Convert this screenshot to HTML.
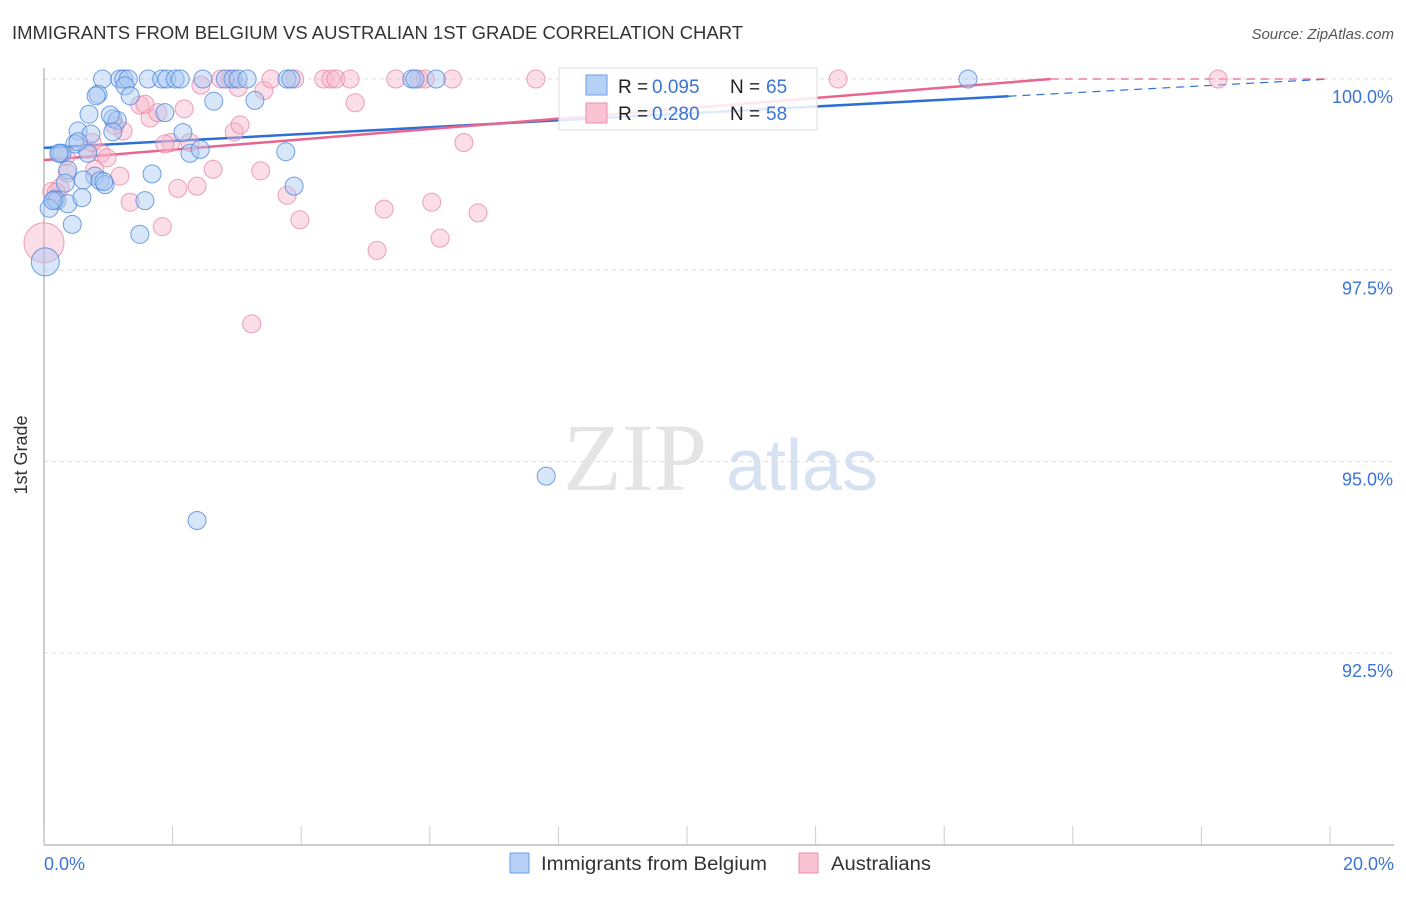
<!DOCTYPE html>
<html><head><meta charset="utf-8"><style>
body{margin:0;background:#fff;font-family:"Liberation Sans",sans-serif;}
svg text{font-family:"Liberation Sans",sans-serif;}
</style></head><body>
<svg id="c" width="1406" height="892" viewBox="0 0 1406 892" xmlns="http://www.w3.org/2000/svg">
<text x="12" y="39" font-size="18" fill="#333" textLength="731" lengthAdjust="spacingAndGlyphs">IMMIGRANTS FROM BELGIUM VS AUSTRALIAN 1ST GRADE CORRELATION CHART</text>
<text x="1394" y="39" font-size="15" fill="#555" text-anchor="end" font-style="italic">Source: ZipAtlas.com</text>
<text x="27" y="455" font-size="18" fill="#333" text-anchor="middle" transform="rotate(-90 27 455)">1st Grade</text>
<g><text x="635" y="490" font-size="96" fill="#e4e4e4" text-anchor="middle" style="font-family:'Liberation Serif',serif">ZIP</text><text x="802" y="490" font-size="72" fill="#d6e2f2" text-anchor="middle">atlas</text></g>
<g id="grid"></g><g id="axes"></g><g id="lines"></g><g id="pts"></g>
<g>
<rect x="559" y="68" width="258" height="62" fill="#fff" fill-opacity="0.85" stroke="#ddd"/>
<rect x="586" y="75" width="21" height="20" fill="#b7d0f5" stroke="#6a9ee6"/>
<rect x="586" y="103" width="21" height="20" fill="#f9c3d3" stroke="#ea8fab"/>
<text y="93" font-size="19" fill="#222"><tspan x="618">R =</tspan><tspan x="652" fill="#3a74d6">0.095</tspan><tspan x="730">N =</tspan><tspan x="766" fill="#3a74d6">65</tspan></text>
<text y="120" font-size="19" fill="#222"><tspan x="618">R =</tspan><tspan x="652" fill="#3a74d6">0.280</tspan><tspan x="730">N =</tspan><tspan x="766" fill="#3a74d6">58</tspan></text>
</g>
<g>
<rect x="510" y="853" width="19" height="20" fill="#b7d0f5" stroke="#6a9ee6"/>
<text x="541" y="870" font-size="19" fill="#333" textLength="226" lengthAdjust="spacingAndGlyphs">Immigrants from Belgium</text>
<rect x="799" y="853" width="19" height="20" fill="#f9c3d3" stroke="#ea8fab"/>
<text x="831" y="870" font-size="19" fill="#333" textLength="100" lengthAdjust="spacingAndGlyphs">Australians</text>
</g>
</svg>
<script>
const xTicks=[0,2,4,6,8,10,12,14,16,18,20];
const yTicks=[92.5,95,97.5,100];
const yTickLabels=["92.5%","95.0%","97.5%","100.0%"];
const xEndLabels=["0.0%","20.0%"];
const blueX=[0.91,1.18,1.24,1.31,1.62,1.83,1.91,2.04,2.12,2.47,2.82,2.94,3.02,3.16,3.78,3.84,5.72,5.77,6.10,14.37,1.26,0.84,0.81,1.34,0.70,2.64,3.28,1.07,1.88,0.53,0.73,1.14,1.07,2.16,0.48,0.25,0.28,2.27,2.43,3.76,0.37,1.68,0.79,0.61,0.87,0.95,0.33,3.89,0.17,0.20,0.37,0.59,0.08,1.57,0.44,1.49,0.02,7.81,2.38,0.14,0.23,0.68,0.53,0.93,1.03];
const blueY=[100,100,100,100,100,100,100,100,100,100,100,100,100,100,100,100,100,100,100,100,99.91,99.80,99.78,99.78,99.54,99.71,99.72,99.48,99.56,99.32,99.28,99.46,99.31,99.30,99.15,99.03,99.03,99.03,99.08,99.05,98.81,98.76,98.73,98.68,98.67,98.62,98.64,98.60,98.43,98.41,98.37,98.45,98.31,98.41,98.10,97.97,97.61,94.81,94.23,98.41,99.03,99.03,99.18,98.66,99.53];
const pinkX=[0.00,0.12,0.25,0.36,0.34,0.68,0.89,0.79,1.18,0.98,1.23,1.49,1.65,1.57,1.77,2.18,1.97,1.88,1.84,1.34,2.08,2.38,2.63,2.96,3.05,3.37,3.02,2.89,2.44,2.75,3.42,3.53,3.90,4.35,4.46,4.54,4.76,4.84,5.29,5.18,3.98,3.23,3.78,5.47,5.83,5.93,6.35,6.03,6.16,6.75,6.53,7.65,12.35,18.26,2.27,1.10,0.75,0.19];
const pinkY=[97.86,98.53,98.58,98.77,98.99,99.08,99.03,98.82,98.73,98.97,99.32,99.66,99.49,99.67,99.56,99.61,99.17,99.15,98.07,98.39,98.57,98.60,98.82,99.31,99.40,98.80,99.89,100,99.92,100,99.85,100,100,100,100,100,100,99.69,98.30,97.76,98.16,96.80,98.48,100,100,100,100,98.39,97.92,98.25,99.17,100,100,100,99.17,99.39,99.17,98.52];
const blueR=[9,9,9,9,9,9,9,9,9,9,9,9,9,9,9,9,9,9,9,9,9,9,9,9,9,9,9,9,9,9,9,9,9,9,9,9,9,9,9,9,9,9,9,9,9,9,9,9,9,9,9,9,9,9,9,9,14,9,9,9,9,9,9,9,9];
const pinkR=[20,9,9,9,9,9,9,9,9,9,9,9,9,9,9,9,9,9,9,9,9,9,9,9,9,9,9,9,9,9,9,9,9,9,9,9,9,9,9,9,9,9,9,9,9,9,9,9,9,9,9,9,9,9,9,9,9,9];
const blueTrend=[99.10,0.045];
const pinkTrend=[98.94,0.0677];
const X=v=>44+v/20*1286;
const Y=v=>79+(100-v)*76.52;
const NS="http://www.w3.org/2000/svg";
function mk(t,a,p){const e=document.createElementNS(NS,t);for(const k in a)e.setAttribute(k,a[k]);p.appendChild(e);return e;}
const grid=document.getElementById('grid'),axes=document.getElementById('axes'),lines=document.getElementById('lines'),pts=document.getElementById('pts');
yTicks.forEach((t,i)=>{
 const g=mk('line',{x1:44,x2:1394,y1:Y(t),y2:Y(t),stroke:'#ddd','stroke-dasharray':'4 4'},grid);
 
 
 const l=mk('text',{x:1393,y:Y(t)+24,'font-size':18,fill:'#3a74d6','text-anchor':'end'},axes);
 l.textContent=yTickLabels[i];
 
 
});
const ya=mk('line',{x1:44,x2:44,y1:68,y2:845,stroke:'#bbb','stroke-width':1.5},axes);


const xa=mk('line',{x1:44,x2:1394,y1:845,y2:845,stroke:'#bbb','stroke-width':1.5},axes);


xTicks.forEach(t=>{const k=mk('line',{x1:X(t),x2:X(t),y1:826,y2:845,stroke:'#ccc'},axes);
 
 });
const l0=mk('text',{x:44,y:870,'font-size':18,fill:'#3a74d6'},axes);l0.textContent=xEndLabels[0];


const l1=mk('text',{x:1394,y:870,'font-size':18,fill:'#3a74d6','text-anchor':'end'},axes);l1.textContent=xEndLabels[1];


function trend(tr,color,solidEnd,name){
 const f=x=>Math.min(100,tr[0]+tr[1]*x);
 const s=mk('line',{x1:X(0),y1:Y(f(0)),x2:X(solidEnd),y2:Y(f(solidEnd)),stroke:color,'stroke-width':2.5},lines);
 
 
 const d=mk('line',{x1:X(solidEnd),y1:Y(f(solidEnd)),x2:X(20),y2:Y(f(20)),stroke:color,'stroke-width':1.2,'stroke-dasharray':'8 6'},lines);
 
 
}
trend(blueTrend,'#2e6fd6',15,'trend-line-belgium');
trend(pinkTrend,'#e8658d',(100-pinkTrend[0])/pinkTrend[1],'trend-line-australians');
function dots(xs,ys,rs,fill,stroke,name){
 xs.forEach((x,i)=>{const c=mk('circle',{cx:X(x),cy:Y(ys[i]),r:rs[i],fill:fill,'fill-opacity':0.45,stroke:stroke,'stroke-opacity':0.8,'stroke-width':1},pts);
  
  });
}
dots(pinkX,pinkY,pinkR,'#f7b6ca','#e98aa8','point-australians');
dots(blueX,blueY,blueR,'#a9c8f2','#4f88de','point-belgium');
</script>
</body></html>
